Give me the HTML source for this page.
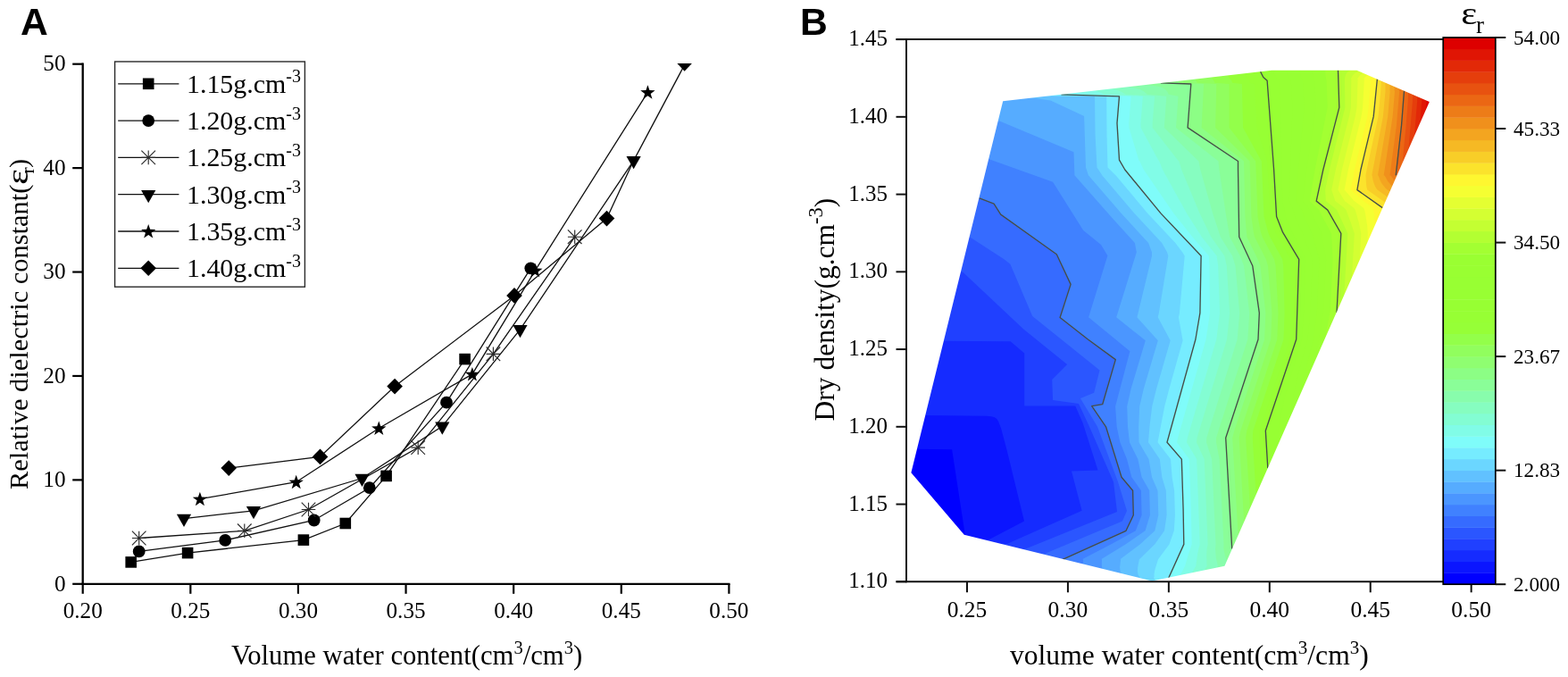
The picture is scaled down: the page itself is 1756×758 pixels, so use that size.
<!DOCTYPE html>
<html lang="en">
<head>
<meta charset="utf-8">
<title>Relative dielectric constant vs volume water content</title>
<style>
html,body{margin:0;padding:0;background:#fff;}
body{width:1756px;height:758px;overflow:hidden;}
svg{display:block;}
text{fill:#000;}
</style>
</head>
<body>
<svg width="1756" height="758" viewBox="0 0 1756 758">
<rect x="0" y="0" width="1756" height="758" fill="#fff"/>
<clipPath id="clipA"><rect x="92.7" y="70.90" width="743.6999999999999" height="582.90"/></clipPath>
<g clip-path="url(#clipA)">
<polyline points="146.7,629.4 210.1,619.1 339.9,604.6 386.8,586.0 432.6,532.9 520.6,402.1" fill="none" stroke="#111" stroke-width="1.3"/>
<polyline points="155.7,617.4 252.2,604.9 351.7,582.5 413.8,546.2 500.0,450.7 594.3,300.3" fill="none" stroke="#111" stroke-width="1.3"/>
<polyline points="155.7,602.5 273.8,594.3 345.5,570.5 468.2,501.1 552.4,396.3 643.7,265.2" fill="none" stroke="#111" stroke-width="1.3"/>
<polyline points="206.0,580.6 284.0,571.8 405.5,535.5 495.3,477.3 582.5,368.8 709.6,179.8 766.5,72.8" fill="none" stroke="#111" stroke-width="1.3"/>
<polyline points="223.9,558.7 331.7,539.7 424.3,479.5 528.9,418.9 599.3,302.8 725.4,103.3" fill="none" stroke="#111" stroke-width="1.3"/>
<polyline points="256.2,524.1 358.5,511.4 442.1,432.6 576.0,330.9 679.5,244.6 709.6,179.8" fill="none" stroke="#111" stroke-width="1.3"/>
<rect x="140.40" y="623.10" width="12.6" height="12.6" fill="#000"/>
<rect x="203.80" y="612.80" width="12.6" height="12.6" fill="#000"/>
<rect x="333.60" y="598.30" width="12.6" height="12.6" fill="#000"/>
<rect x="380.50" y="579.70" width="12.6" height="12.6" fill="#000"/>
<rect x="426.30" y="526.60" width="12.6" height="12.6" fill="#000"/>
<rect x="514.30" y="395.80" width="12.6" height="12.6" fill="#000"/>
<circle cx="155.70" cy="617.40" r="6.9" fill="#000"/>
<circle cx="252.20" cy="604.90" r="6.9" fill="#000"/>
<circle cx="351.70" cy="582.50" r="6.9" fill="#000"/>
<circle cx="413.80" cy="546.20" r="6.9" fill="#000"/>
<circle cx="500.00" cy="450.70" r="6.9" fill="#000"/>
<circle cx="594.30" cy="300.30" r="6.9" fill="#000"/>
<path d="M147.90,602.50H163.50M155.70,594.70V610.30M147.90,594.70L163.50,610.30M147.90,610.30L163.50,594.70" stroke="#2b2b2b" stroke-width="1.15" fill="none"/>
<path d="M266.00,594.30H281.60M273.80,586.50V602.10M266.00,586.50L281.60,602.10M266.00,602.10L281.60,586.50" stroke="#2b2b2b" stroke-width="1.15" fill="none"/>
<path d="M337.70,570.50H353.30M345.50,562.70V578.30M337.70,562.70L353.30,578.30M337.70,578.30L353.30,562.70" stroke="#2b2b2b" stroke-width="1.15" fill="none"/>
<path d="M460.40,501.10H476.00M468.20,493.30V508.90M460.40,493.30L476.00,508.90M460.40,508.90L476.00,493.30" stroke="#2b2b2b" stroke-width="1.15" fill="none"/>
<path d="M544.60,396.30H560.20M552.40,388.50V404.10M544.60,388.50L560.20,404.10M544.60,404.10L560.20,388.50" stroke="#2b2b2b" stroke-width="1.15" fill="none"/>
<path d="M635.90,265.20H651.50M643.70,257.40V273.00M635.90,257.40L651.50,273.00M635.90,273.00L651.50,257.40" stroke="#2b2b2b" stroke-width="1.15" fill="none"/>
<polygon points="197.90,575.87 214.10,575.87 206.00,590.07" fill="#000"/>
<polygon points="275.90,567.07 292.10,567.07 284.00,581.27" fill="#000"/>
<polygon points="397.40,530.77 413.60,530.77 405.50,544.97" fill="#000"/>
<polygon points="487.20,472.57 503.40,472.57 495.30,486.77" fill="#000"/>
<polygon points="574.40,364.07 590.60,364.07 582.50,378.27" fill="#000"/>
<polygon points="701.50,175.07 717.70,175.07 709.60,189.27" fill="#000"/>
<polygon points="758.4,71.1 774.9,71.1 766.6,79.7" fill="#000"/>
<polygon points="223.90,550.70 225.92,556.52 232.08,556.64 227.17,560.36 228.95,566.26 223.90,562.74 218.85,566.26 220.63,560.36 215.72,556.64 221.88,556.52" fill="#000"/>
<polygon points="331.70,531.70 333.72,537.52 339.88,537.64 334.97,541.36 336.75,547.26 331.70,543.74 326.65,547.26 328.43,541.36 323.52,537.64 329.68,537.52" fill="#000"/>
<polygon points="424.30,471.50 426.32,477.32 432.48,477.44 427.57,481.16 429.35,487.06 424.30,483.54 419.25,487.06 421.03,481.16 416.12,477.44 422.28,477.32" fill="#000"/>
<polygon points="528.90,410.90 530.92,416.72 537.08,416.84 532.17,420.56 533.95,426.46 528.90,422.94 523.85,426.46 525.63,420.56 520.72,416.84 526.88,416.72" fill="#000"/>
<polygon points="599.30,294.80 601.32,300.62 607.48,300.74 602.57,304.46 604.35,310.36 599.30,306.84 594.25,310.36 596.03,304.46 591.12,300.74 597.28,300.62" fill="#000"/>
<polygon points="725.40,95.30 727.42,101.12 733.58,101.24 728.67,104.96 730.45,110.86 725.40,107.34 720.35,110.86 722.13,104.96 717.22,101.24 723.38,101.12" fill="#000"/>
<polygon points="256.20,515.30 265.00,524.10 256.20,532.90 247.40,524.10" fill="#000"/>
<polygon points="358.50,502.60 367.30,511.40 358.50,520.20 349.70,511.40" fill="#000"/>
<polygon points="442.10,423.80 450.90,432.60 442.10,441.40 433.30,432.60" fill="#000"/>
<polygon points="576.00,322.10 584.80,330.90 576.00,339.70 567.20,330.90" fill="#000"/>
<polygon points="679.50,235.80 688.30,244.60 679.50,253.40 670.70,244.60" fill="#000"/>
</g>
<path d="M92.70,70.60V654.90" stroke="#000" stroke-width="2.3" fill="none"/>
<path d="M91.60,653.80H817.50" stroke="#000" stroke-width="2.3" fill="none"/>
<path d="M81.20,653.80H92.70" stroke="#000" stroke-width="2.2"/>
<text x="73.50" y="661.50" font-family='"Liberation Serif", "Times New Roman", serif' font-size="25.2" text-anchor="end">0</text>
<path d="M81.20,537.38H92.70" stroke="#000" stroke-width="2.2"/>
<text x="73.50" y="545.08" font-family='"Liberation Serif", "Times New Roman", serif' font-size="25.2" text-anchor="end">10</text>
<path d="M81.20,420.96H92.70" stroke="#000" stroke-width="2.2"/>
<text x="73.50" y="428.66" font-family='"Liberation Serif", "Times New Roman", serif' font-size="25.2" text-anchor="end">20</text>
<path d="M81.20,304.54H92.70" stroke="#000" stroke-width="2.2"/>
<text x="73.50" y="312.24" font-family='"Liberation Serif", "Times New Roman", serif' font-size="25.2" text-anchor="end">30</text>
<path d="M81.20,188.12H92.70" stroke="#000" stroke-width="2.2"/>
<text x="73.50" y="195.82" font-family='"Liberation Serif", "Times New Roman", serif' font-size="25.2" text-anchor="end">40</text>
<path d="M81.20,71.70H92.70" stroke="#000" stroke-width="2.2"/>
<text x="73.50" y="79.40" font-family='"Liberation Serif", "Times New Roman", serif' font-size="25.2" text-anchor="end">50</text>
<path d="M92.70,653.80V664.80" stroke="#000" stroke-width="2.2"/>
<text x="92.70" y="692" font-family='"Liberation Serif", "Times New Roman", serif' font-size="25.2" text-anchor="middle">0.20</text>
<path d="M213.32,653.80V664.80" stroke="#000" stroke-width="2.2"/>
<text x="213.32" y="692" font-family='"Liberation Serif", "Times New Roman", serif' font-size="25.2" text-anchor="middle">0.25</text>
<path d="M333.93,653.80V664.80" stroke="#000" stroke-width="2.2"/>
<text x="333.93" y="692" font-family='"Liberation Serif", "Times New Roman", serif' font-size="25.2" text-anchor="middle">0.30</text>
<path d="M454.55,653.80V664.80" stroke="#000" stroke-width="2.2"/>
<text x="454.55" y="692" font-family='"Liberation Serif", "Times New Roman", serif' font-size="25.2" text-anchor="middle">0.35</text>
<path d="M575.17,653.80V664.80" stroke="#000" stroke-width="2.2"/>
<text x="575.17" y="692" font-family='"Liberation Serif", "Times New Roman", serif' font-size="25.2" text-anchor="middle">0.40</text>
<path d="M695.78,653.80V664.80" stroke="#000" stroke-width="2.2"/>
<text x="695.78" y="692" font-family='"Liberation Serif", "Times New Roman", serif' font-size="25.2" text-anchor="middle">0.45</text>
<path d="M816.40,653.80V664.80" stroke="#000" stroke-width="2.2"/>
<text x="816.40" y="692" font-family='"Liberation Serif", "Times New Roman", serif' font-size="25.2" text-anchor="middle">0.50</text>
<text x="259" y="743.7" font-family='"Liberation Serif", "Times New Roman", serif' font-size="30.7">Volume water content(cm<tspan font-size="20.5" dy="-12">3</tspan><tspan font-size="30.7" dy="12">/cm</tspan><tspan font-size="20.5" dy="-12">3</tspan><tspan font-size="30.7" dy="12">)</tspan></text>
<text transform="translate(30.6,548.0) rotate(-90)" font-family='"Liberation Serif", "Times New Roman", serif' font-size="30.45">Relative dielectric constant(</text>
<text transform="translate(30.9,206.7) rotate(-90) scale(1.22,1)" font-family='"Liberation Serif", "Times New Roman", serif' font-size="34.5">ε</text>
<text transform="translate(38.3,194.5) rotate(-90)" font-family='"Liberation Serif", "Times New Roman", serif' font-size="21.5">r</text>
<text transform="translate(30.6,188.0) rotate(-90)" font-family='"Liberation Serif", "Times New Roman", serif' font-size="30.45">)</text>
<text x="23.0" y="39.3" font-family='"Liberation Sans", Arial, sans-serif' font-weight="bold" font-size="42.6">A</text>
<rect x="128.6" y="69.0" width="212.8" height="252.2" fill="#fff" stroke="#2a2a2a" stroke-width="1.4"/>
<path d="M132.2,93.80H200.4" stroke="#111" stroke-width="1.3"/>
<rect x="159.90" y="87.50" width="12.6" height="12.6" fill="#000"/>
<text x="209" y="103.70" font-family='"Liberation Serif", "Times New Roman", serif' font-size="29.9">1.15g.cm<tspan font-size="20" dy="-11.4">-3</tspan></text>
<path d="M132.2,135.10H200.4" stroke="#111" stroke-width="1.3"/>
<circle cx="166.20" cy="135.10" r="6.9" fill="#000"/>
<text x="209" y="145.00" font-family='"Liberation Serif", "Times New Roman", serif' font-size="29.9">1.20g.cm<tspan font-size="20" dy="-11.4">-3</tspan></text>
<path d="M132.2,176.40H200.4" stroke="#111" stroke-width="1.3"/>
<path d="M158.40,176.40H174.00M166.20,168.60V184.20M158.40,168.60L174.00,184.20M158.40,184.20L174.00,168.60" stroke="#2b2b2b" stroke-width="1.15" fill="none"/>
<text x="209" y="186.30" font-family='"Liberation Serif", "Times New Roman", serif' font-size="29.9">1.25g.cm<tspan font-size="20" dy="-11.4">-3</tspan></text>
<path d="M132.2,217.70H200.4" stroke="#111" stroke-width="1.3"/>
<polygon points="158.10,212.97 174.30,212.97 166.20,227.17" fill="#000"/>
<text x="209" y="227.60" font-family='"Liberation Serif", "Times New Roman", serif' font-size="29.9">1.30g.cm<tspan font-size="20" dy="-11.4">-3</tspan></text>
<path d="M132.2,259.00H200.4" stroke="#111" stroke-width="1.3"/>
<polygon points="166.20,251.00 168.22,256.82 174.38,256.94 169.47,260.66 171.25,266.56 166.20,263.04 161.15,266.56 162.93,260.66 158.02,256.94 164.18,256.82" fill="#000"/>
<text x="209" y="268.90" font-family='"Liberation Serif", "Times New Roman", serif' font-size="29.9">1.35g.cm<tspan font-size="20" dy="-11.4">-3</tspan></text>
<path d="M132.2,300.30H200.4" stroke="#111" stroke-width="1.3"/>
<polygon points="166.20,291.50 175.00,300.30 166.20,309.10 157.40,300.30" fill="#000"/>
<text x="209" y="310.20" font-family='"Liberation Serif", "Times New Roman", serif' font-size="29.9">1.40g.cm<tspan font-size="20" dy="-11.4">-3</tspan></text>
<clipPath id="clipB"><polygon points="1424.1,78.7 1519.4,78.7 1600.8,114.1 1371.4,633.7 1290.0,650.5 1079.8,598.8 1020.4,529.2 1123.2,113.3"/></clipPath>
<g>
<polygon points="1424.1,78.7 1519.4,78.7 1600.8,114.1 1371.4,633.7 1290.0,650.5 1079.8,598.8 1020.4,529.2 1123.2,113.3" fill="#0000ff" stroke="#0000ff" stroke-width="3"/>
<polygon points="1418.1,77.2 1418.1,78.7 1117.2,113.3 1021.0,502.7 1066.1,503.2 1080.8,598.8 1081.5,599.2 1077.5,599.7 1284.0,650.5 1284.0,652.0 1296.0,652.0 1296.0,650.5 1377.4,633.7 1606.8,114.1 1525.4,78.7 1525.4,77.2" fill="#0b15ff"/>
<polygon points="1418.1,77.2 1418.1,78.7 1117.2,113.3 1030.3,465.0 1104.3,465.7 1110.0,466.2 1113.9,467.2 1116.5,469.2 1118.3,472.2 1121.2,480.0 1127.4,503.2 1147.0,583.4 1107.3,604.2 1097.0,604.5 1284.0,650.5 1284.0,652.0 1296.0,652.0 1296.0,650.5 1377.4,633.7 1606.8,114.1 1525.4,78.7 1525.4,77.2" fill="#152bff"/>
<polygon points="1418.1,77.2 1418.1,78.7 1117.2,113.3 1050.9,381.7 1131.6,382.2 1147.2,395.4 1147.2,454.4 1204.2,454.6 1212.6,473.5 1229.5,526.4 1200.0,527.5 1211.6,571.8 1128.2,608.8 1116.1,609.2 1284.0,650.5 1284.0,652.0 1296.0,652.0 1296.0,650.5 1377.4,633.7 1606.8,114.1 1525.4,78.7 1525.4,77.2" fill="#2040ff"/>
<polygon points="1418.1,77.2 1418.1,78.7 1117.2,113.3 1070.0,304.2 1078.1,304.5 1146.2,368.4 1195.1,408.0 1178.2,425.0 1179.1,448.0 1208.0,452.0 1220.0,477.8 1247.0,539.6 1251.0,572.9 1146.7,615.2 1142.5,615.7 1284.0,650.5 1284.0,652.0 1296.0,652.0 1296.0,650.5 1377.4,633.7 1606.8,114.1 1525.4,78.7 1525.4,77.2" fill="#2b56ff"/>
<polygon points="1418.1,77.2 1418.1,78.7 1117.2,113.3 1079.7,265.0 1085.8,265.2 1124.1,290.0 1131.4,295.8 1156.2,353.9 1231.5,414.4 1225.2,439.8 1209.9,446.0 1229.0,477.8 1252.0,539.6 1262.0,572.0 1256.9,583.4 1169.2,620.2 1162.4,620.6 1284.0,650.5 1284.0,652.0 1296.0,652.0 1296.0,650.5 1377.4,633.7 1606.8,114.1 1525.4,78.7 1525.4,77.2" fill="#366bff"/>
<polygon points="1418.1,77.2 1418.1,78.7 1117.2,113.3 1090.4,221.7 1096.8,221.8 1113.1,228.1 1120.7,240.1 1183.3,284.8 1199.1,318.4 1187.1,355.5 1218.4,380.0 1249.3,402.6 1234.7,452.7 1222.7,454.7 1238.5,477.8 1256.0,534.2 1268.6,549.2 1269.3,576.8 1261.0,594.3 1191.6,625.7 1191.2,626.2 1192.0,626.4 1187.2,626.7 1284.0,650.5 1284.0,652.0 1296.0,652.0 1296.0,650.5 1377.4,633.7 1606.8,114.1 1525.4,78.7 1525.4,77.2" fill="#4081ff"/>
<polygon points="1418.1,77.2 1418.1,78.7 1117.2,113.3 1101.4,177.2 1107.4,177.7 1107.7,178.2 1179.1,203.8 1213.0,257.7 1233.0,274.0 1240.4,286.3 1219.1,355.2 1265.4,393.2 1249.1,455.0 1250.7,478.0 1254.4,495.3 1262.0,514.1 1267.3,534.2 1277.9,549.2 1278.6,576.8 1271.8,594.3 1244.0,609.4 1212.8,625.7 1212.4,626.2 1213.0,626.4 1213.2,631.2 1207.6,631.7 1284.0,650.5 1284.0,652.0 1296.0,652.0 1296.0,650.5 1377.4,633.7 1606.8,114.1 1525.4,78.7 1525.4,77.2" fill="#4b96ff"/>
<polygon points="1418.1,77.2 1418.1,78.7 1117.2,113.3 1111.8,135.2 1119.8,135.7 1121.1,136.2 1202.5,170.2 1203.4,196.3 1246.6,245.2 1270.9,272.0 1272.8,282.5 1250.2,355.2 1282.8,381.3 1266.6,435.2 1262.2,455.0 1263.0,478.0 1265.0,495.3 1274.3,514.1 1278.6,534.2 1287.2,549.2 1287.9,576.8 1282.5,594.3 1260.4,609.4 1233.9,625.7 1233.5,626.2 1234.0,626.4 1233.8,632.2 1234.4,636.7 1229.9,637.2 1284.0,650.5 1284.0,652.0 1296.0,652.0 1296.0,650.5 1377.4,633.7 1606.8,114.1 1525.4,78.7 1525.4,77.2" fill="#56acff"/>
<polygon points="1418.1,77.2 1418.1,78.7 1152.9,109.2 1176.5,112.6 1214.1,130.1 1216.0,187.5 1218.9,196.3 1255.8,238.9 1286.1,272.0 1290.0,282.5 1290.0,286.5 1273.4,355.2 1296.8,381.3 1280.8,435.2 1276.2,455.0 1275.2,478.0 1275.5,495.3 1286.5,514.1 1290.0,534.2 1296.5,549.2 1297.3,576.8 1293.3,594.3 1276.7,609.4 1255.0,625.7 1254.7,626.2 1255.1,626.4 1254.1,635.2 1254.5,638.7 1255.5,641.7 1250.3,642.2 1284.0,650.5 1284.0,652.0 1296.0,652.0 1296.0,650.5 1377.4,633.7 1606.8,114.1 1525.4,78.7 1525.4,77.2" fill="#61c1ff"/>
<polygon points="1418.1,77.2 1418.1,78.7 1170.2,107.2 1226.0,107.6 1226.5,150.0 1228.5,187.5 1234.6,196.7 1270.5,238.9 1301.2,272.0 1307.1,282.5 1308.3,286.5 1297.8,350.4 1296.7,355.2 1310.7,381.3 1295.1,435.2 1290.2,455.0 1287.4,478.0 1286.0,495.3 1298.8,514.1 1301.3,534.2 1305.8,549.2 1306.6,576.8 1304.0,594.3 1293.1,609.4 1275.9,626.2 1274.2,634.7 1273.9,639.7 1274.6,643.7 1276.8,647.2 1272.6,647.7 1284.0,650.5 1284.0,652.0 1296.0,652.0 1296.0,650.5 1377.4,633.7 1606.8,114.1 1525.4,78.7 1525.4,77.2" fill="#6bd6ff"/>
<polygon points="1418.1,77.2 1418.1,78.7 1170.2,107.2 1239.2,107.8 1239.5,150.0 1240.5,187.5 1249.9,196.7 1285.3,238.9 1316.3,272.0 1324.2,282.5 1326.7,286.5 1320.9,350.4 1319.9,355.2 1324.6,381.3 1309.4,435.2 1304.2,455.0 1296.5,495.3 1311.0,514.1 1312.6,534.2 1315.1,549.2 1315.9,576.8 1314.8,594.3 1309.4,609.4 1297.0,626.2 1293.4,637.7 1292.5,642.7 1292.6,646.2 1291.8,647.0 1294.3,649.2 1299.9,649.7 1296.0,650.5 1296.0,652.0 1296.0,652.0 1296.0,650.5 1377.4,633.7 1606.8,114.1 1525.4,78.7 1525.4,77.2" fill="#76ecff"/>
<polygon points="1418.1,77.2 1418.1,78.7 1183.3,105.7 1253.5,107.8 1251.0,137.9 1253.5,179.2 1259.8,190.0 1300.0,238.9 1345.1,286.5 1343.9,350.4 1338.9,380.0 1307.0,495.3 1323.3,514.1 1325.1,570.0 1325.8,609.4 1309.2,646.2 1307.0,647.0 1312.0,647.2 1296.0,650.5 1296.0,652.0 1296.0,652.0 1296.0,650.5 1377.4,633.7 1606.8,114.1 1525.4,78.7 1525.4,77.2" fill="#7ffcfa"/>
<polygon points="1418.1,77.2 1418.1,78.7 1205.0,103.2 1207.5,103.7 1212.5,105.8 1266.7,107.8 1264.2,137.9 1264.4,142.9 1275.3,179.2 1276.3,180.5 1280.9,190.0 1314.5,238.9 1335.4,265.2 1353.8,286.5 1354.5,297.8 1355.0,350.4 1350.6,380.0 1319.1,490.3 1318.0,495.3 1331.8,514.1 1333.8,570.0 1334.7,609.4 1330.5,621.7 1327.1,633.7 1323.8,640.2 1321.3,643.7 1326.5,644.2 1296.0,650.5 1296.0,652.0 1296.0,652.0 1296.0,650.5 1377.4,633.7 1606.8,114.1 1525.4,78.7 1525.4,77.2" fill="#81fce7"/>
<polygon points="1418.1,77.2 1418.1,78.7 1222.4,101.2 1226.2,101.5 1228.6,102.2 1232.6,103.7 1236.6,105.8 1279.9,107.8 1277.5,137.9 1277.6,142.9 1297.2,179.2 1298.3,180.5 1302.0,190.0 1329.1,238.9 1345.8,265.2 1362.6,286.5 1364.2,297.8 1366.0,350.4 1362.3,380.0 1329.8,490.3 1329.0,495.3 1340.2,514.1 1343.7,609.4 1342.3,614.4 1340.9,621.7 1339.3,633.7 1334.9,641.2 1338.6,641.7 1296.0,650.5 1296.0,652.0 1296.0,652.0 1296.0,650.5 1377.4,633.7 1606.8,114.1 1525.4,78.7 1525.4,77.2" fill="#83fdd3"/>
<polygon points="1418.1,77.2 1418.1,78.7 1239.8,99.2 1246.8,99.7 1250.6,100.7 1255.8,102.7 1260.7,105.8 1293.1,107.8 1290.7,137.9 1290.7,142.9 1319.0,179.2 1320.4,180.5 1323.2,190.0 1343.6,238.9 1356.3,265.2 1371.3,286.5 1373.8,297.8 1377.1,350.4 1374.0,380.0 1340.5,490.3 1340.0,495.3 1348.7,514.1 1352.6,609.4 1351.6,614.4 1351.2,621.7 1351.6,633.7 1348.9,638.2 1353.2,638.7 1296.0,650.5 1296.0,652.0 1296.0,652.0 1296.0,650.5 1377.4,633.7 1606.8,114.1 1525.4,78.7 1525.4,77.2" fill="#86fdc0"/>
<polygon points="1418.1,77.2 1418.1,78.7 1261.6,96.7 1270.1,98.2 1277.0,100.2 1281.6,102.7 1284.7,105.8 1306.3,107.8 1303.8,142.9 1342.4,180.5 1344.3,190.0 1358.2,238.9 1366.8,265.2 1380.1,286.5 1383.5,297.8 1388.2,350.4 1385.6,380.0 1351.3,490.3 1351.0,495.3 1357.1,514.1 1361.5,609.4 1361.0,614.4 1361.9,625.2 1363.9,633.7 1363.0,635.2 1367.7,635.7 1296.0,650.5 1296.0,652.0 1296.0,652.0 1296.0,650.5 1377.4,633.7 1606.8,114.1 1525.4,78.7 1525.4,77.2" fill="#88fdac"/>
<polygon points="1418.1,77.2 1418.1,78.7 1279.0,94.7 1290.8,95.7 1296.9,96.7 1300.5,97.7 1303.8,99.2 1305.7,100.7 1307.4,102.7 1308.8,105.8 1319.5,107.8 1317.0,142.9 1364.5,180.5 1365.4,190.0 1372.7,238.9 1377.2,265.2 1388.8,286.5 1393.1,297.8 1399.2,350.4 1397.3,380.0 1362.0,490.3 1362.0,495.3 1365.6,514.1 1370.5,609.4 1370.3,614.4 1371.9,622.2 1373.7,628.2 1379.6,628.7 1377.4,633.7 1296.0,650.5 1296.0,652.0 1296.0,652.0 1296.0,650.5 1377.4,633.7 1606.8,114.1 1525.4,78.7 1525.4,77.2" fill="#8afe98"/>
<polygon points="1418.1,77.2 1418.1,78.7 1296.3,92.7 1333.8,94.0 1330.1,142.9 1386.5,180.5 1387.7,265.2 1402.8,297.8 1410.3,350.4 1409.0,380.0 1372.7,490.3 1379.7,614.4 1385.8,614.7 1377.4,633.7 1296.0,650.5 1296.0,652.0 1296.0,652.0 1296.0,650.5 1377.4,633.7 1606.8,114.1 1525.4,78.7 1525.4,77.2" fill="#8cfe85"/>
<polygon points="1418.1,77.2 1418.1,78.7 1318.1,90.2 1319.9,90.7 1321.1,92.8 1348.1,94.0 1345.6,142.9 1393.1,180.5 1394.4,242.6 1396.4,265.2 1408.6,290.3 1411.4,297.8 1417.4,350.4 1416.1,380.0 1382.3,482.3 1380.2,490.3 1386.6,599.2 1392.4,599.7 1377.4,633.7 1296.0,650.5 1296.0,652.0 1296.0,652.0 1296.0,650.5 1377.4,633.7 1606.8,114.1 1525.4,78.7 1525.4,77.2" fill="#8ffe71"/>
<polygon points="1418.1,77.2 1418.1,78.7 1335.5,88.2 1338.3,88.7 1340.8,92.8 1362.3,94.0 1361.1,142.9 1399.6,180.5 1401.4,242.6 1403.9,260.2 1405.0,265.2 1417.8,290.3 1420.0,297.8 1424.4,350.4 1423.2,380.0 1389.3,482.3 1387.7,490.3 1393.2,584.2 1399.0,584.7 1377.4,633.7 1296.0,650.5 1296.0,652.0 1296.0,652.0 1296.0,650.5 1377.4,633.7 1606.8,114.1 1525.4,78.7 1525.4,77.2" fill="#91fe5e"/>
<polygon points="1418.1,77.2 1418.1,78.7 1352.9,86.2 1356.6,86.5 1359.3,90.2 1360.4,92.8 1376.6,94.0 1376.6,142.9 1406.2,180.5 1408.5,242.6 1412.1,260.2 1413.7,265.2 1427.0,290.3 1428.6,297.8 1431.5,350.4 1430.3,380.0 1396.3,482.3 1395.2,490.3 1399.9,569.2 1405.7,569.7 1377.4,633.7 1296.0,650.5 1296.0,652.0 1296.0,652.0 1296.0,650.5 1377.4,633.7 1606.8,114.1 1525.4,78.7 1525.4,77.2" fill="#93ff4a"/>
<polygon points="1418.1,77.2 1418.1,78.7 1370.3,84.2 1375.1,84.7 1376.2,86.7 1379.3,90.2 1380.0,92.8 1390.9,94.0 1392.1,142.9 1412.8,180.5 1415.5,242.6 1420.3,260.2 1422.3,265.2 1436.2,290.3 1437.2,297.8 1438.6,350.4 1437.5,380.0 1403.3,482.3 1402.8,490.3 1406.5,553.7 1412.5,554.2 1377.4,633.7 1296.0,650.5 1296.0,652.0 1296.0,652.0 1296.0,650.5 1377.4,633.7 1606.8,114.1 1525.4,78.7 1525.4,77.2" fill="#96ff37"/>
<polygon points="1418.1,77.2 1418.1,78.7 1387.7,82.2 1393.6,82.7 1395.4,86.5 1399.2,90.2 1399.7,92.8 1405.1,94.0 1407.6,142.9 1419.3,180.5 1422.6,242.6 1428.4,260.2 1431.0,265.2 1445.5,290.3 1445.8,297.8 1445.6,350.4 1444.6,380.0 1410.3,482.3 1410.3,490.3 1413.1,538.7 1419.1,539.2 1377.4,633.7 1296.0,650.5 1296.0,652.0 1296.0,652.0 1296.0,650.5 1377.4,633.7 1606.8,114.1 1525.4,78.7 1525.4,77.2" fill="#97ff34"/>
<polygon points="1418.1,77.2 1418.1,78.7 1409.4,79.7 1411.6,80.2 1414.8,86.5 1419.1,90.2 1426.6,190.0 1429.6,242.6 1436.6,260.2 1454.7,290.3 1451.7,380.0 1417.3,482.3 1419.8,524.1 1425.7,524.2 1377.4,633.7 1296.0,650.5 1296.0,652.0 1296.0,652.0 1296.0,650.5 1377.4,633.7 1606.8,114.1 1525.4,78.7 1525.4,77.2" fill="#97ff33"/>
<polygon points="1428.7,77.2 1428.7,78.7 1426.1,80.2 1428.8,86.5 1432.4,90.2 1434.4,120.3 1436.2,225.1 1438.8,235.1 1439.8,242.6 1447.4,260.2 1462.3,290.3 1460.1,348.7 1458.1,380.0 1447.3,415.2 1439.8,441.7 1435.0,461.7 1432.3,477.2 1431.8,482.3 1432.6,494.7 1438.5,495.2 1377.4,633.7 1296.0,650.5 1296.0,652.0 1296.0,652.0 1296.0,650.5 1377.4,633.7 1606.8,114.1 1525.4,78.7 1525.4,77.2" fill="#98ff33"/>
<polygon points="1442.6,77.2 1442.6,78.7 1440.6,80.2 1442.8,86.5 1445.7,90.2 1447.5,120.3 1443.8,225.1 1448.4,235.1 1450.1,242.6 1458.8,261.4 1469.9,290.3 1467.5,348.7 1464.5,380.0 1457.1,406.2 1451.7,427.7 1448.1,445.2 1445.9,459.7 1445.4,465.7 1451.4,466.2 1377.4,633.7 1296.0,650.5 1296.0,652.0 1296.0,652.0 1296.0,650.5 1377.4,633.7 1606.8,114.1 1525.4,78.7 1525.4,77.2" fill="#98ff33"/>
<polygon points="1456.6,77.2 1456.6,78.7 1455.1,80.2 1456.8,86.5 1459.0,90.2 1460.6,120.3 1454.2,190.0 1451.4,225.1 1458.0,235.1 1460.3,242.6 1469.6,261.4 1477.5,290.3 1474.9,348.7 1472.4,368.7 1470.9,380.0 1463.0,411.7 1458.3,436.7 1464.2,437.2 1377.4,633.7 1296.0,650.5 1296.0,652.0 1296.0,652.0 1296.0,650.5 1377.4,633.7 1606.8,114.1 1525.4,78.7 1525.4,77.2" fill="#99ff32"/>
<polygon points="1470.6,77.2 1470.6,78.7 1469.6,80.2 1470.8,86.5 1472.3,90.2 1473.7,120.3 1463.4,190.0 1459.0,225.1 1467.6,235.1 1470.6,242.6 1480.3,261.4 1485.1,290.3 1482.2,349.2 1477.2,380.0 1471.0,408.0 1477.0,408.2 1377.4,633.7 1296.0,650.5 1296.0,652.0 1296.0,652.0 1296.0,650.5 1377.4,633.7 1606.8,114.1 1525.4,78.7 1525.4,77.2" fill="#9aff32"/>
<polygon points="1484.5,77.2 1484.5,78.7 1484.1,80.2 1484.8,86.5 1485.6,90.2 1486.7,120.3 1472.6,190.0 1466.6,225.1 1477.2,235.1 1480.8,242.6 1491.1,261.4 1492.6,290.3 1489.7,348.7 1483.9,378.7 1489.8,379.2 1377.4,633.7 1296.0,650.5 1296.0,652.0 1296.0,652.0 1296.0,650.5 1377.4,633.7 1606.8,114.1 1525.4,78.7 1525.4,77.2" fill="#a3ff32"/>
<polygon points="1498.5,77.2 1498.5,78.7 1499.8,120.3 1481.8,190.0 1474.2,225.1 1486.8,235.1 1501.8,261.4 1497.1,348.7 1496.7,350.0 1502.6,350.2 1377.4,633.7 1296.0,650.5 1296.0,652.0 1296.0,652.0 1296.0,650.5 1377.4,633.7 1606.8,114.1 1525.4,78.7 1525.4,77.2" fill="#b3ff32"/>
<polygon points="1512.5,77.2 1512.5,78.7 1510.3,79.7 1508.5,81.2 1507.2,83.2 1506.2,86.5 1505.9,88.2 1506.4,120.3 1488.8,190.0 1484.1,212.6 1484.8,225.1 1494.6,232.7 1497.1,235.1 1509.3,261.4 1505.3,330.2 1511.2,330.7 1377.4,633.7 1296.0,650.5 1296.0,652.0 1296.0,652.0 1296.0,650.5 1377.4,633.7 1606.8,114.1 1525.4,78.7 1525.4,77.2" fill="#c4ff32"/>
<polygon points="1525.4,77.2 1525.4,78.7 1527.7,79.7 1520.6,80.2 1516.9,82.2 1514.6,84.7 1512.9,88.2 1513.3,88.7 1512.9,120.3 1510.9,130.4 1495.8,190.0 1491.2,212.6 1495.3,225.1 1505.3,232.7 1507.4,235.1 1512.8,249.2 1516.8,261.4 1513.9,310.7 1519.8,311.2 1377.4,633.7 1296.0,650.5 1296.0,652.0 1296.0,652.0 1296.0,650.5 1377.4,633.7 1606.8,114.1 1525.4,78.7 1525.4,77.2" fill="#d4ff32"/>
<polygon points="1525.4,77.2 1525.4,78.7 1532.3,81.7 1526.0,82.2 1522.5,84.7 1520.0,88.2 1520.6,88.7 1519.5,120.3 1517.7,130.4 1502.8,190.0 1498.4,212.6 1505.9,225.1 1516.1,232.7 1517.7,235.1 1521.8,249.2 1524.3,261.4 1522.6,291.2 1528.4,291.7 1377.4,633.7 1296.0,650.5 1296.0,652.0 1296.0,652.0 1296.0,650.5 1377.4,633.7 1606.8,114.1 1525.4,78.7 1525.4,77.2" fill="#e4ff32"/>
<polygon points="1525.4,77.2 1525.4,78.7 1536.9,83.7 1531.2,84.2 1528.8,86.2 1527.1,88.2 1527.8,88.7 1526.1,120.3 1524.5,130.4 1509.9,190.0 1505.6,212.6 1516.5,225.1 1526.9,232.7 1528.1,235.1 1529.0,239.2 1531.2,252.7 1531.8,261.4 1531.2,271.7 1537.1,272.0 1377.4,633.7 1296.0,650.5 1296.0,652.0 1296.0,652.0 1296.0,650.5 1377.4,633.7 1606.8,114.1 1525.4,78.7 1525.4,77.2" fill="#f5ff32"/>
<polygon points="1525.4,77.2 1525.4,78.7 1541.5,85.7 1536.3,86.2 1534.2,88.2 1535.1,88.7 1532.6,120.3 1531.4,130.4 1516.9,190.0 1512.7,212.6 1527.0,225.1 1537.7,232.7 1539.1,240.7 1539.8,251.7 1545.8,252.2 1377.4,633.7 1296.0,650.5 1296.0,652.0 1296.0,652.0 1296.0,650.5 1377.4,633.7 1606.8,114.1 1525.4,78.7 1525.4,77.2" fill="#fef730"/>
<polygon points="1525.4,77.2 1525.4,78.7 1546.1,87.7 1541.2,88.2 1542.4,88.7 1538.2,130.4 1523.9,190.0 1519.9,212.6 1548.2,232.6 1554.4,232.7 1377.4,633.7 1296.0,650.5 1296.0,652.0 1296.0,652.0 1296.0,650.5 1377.4,633.7 1606.8,114.1 1525.4,78.7 1525.4,77.2" fill="#fbe32c"/>
<polygon points="1525.4,77.2 1525.4,78.7 1551.8,90.2 1546.4,90.7 1546.7,93.7 1546.2,102.2 1543.5,130.4 1530.6,190.0 1529.5,196.3 1529.8,202.7 1530.2,208.2 1531.2,212.6 1550.6,226.2 1557.1,226.7 1377.4,633.7 1296.0,650.5 1296.0,652.0 1296.0,652.0 1296.0,650.5 1377.4,633.7 1606.8,114.1 1525.4,78.7 1525.4,77.2" fill="#f8ce28"/>
<polygon points="1525.4,77.2 1525.4,78.7 1556.4,92.2 1551.4,92.7 1551.5,102.2 1548.9,130.4 1536.3,196.3 1536.7,196.7 1537.6,201.7 1539.0,206.2 1540.6,209.7 1542.5,212.6 1553.4,220.2 1559.7,220.7 1377.4,633.7 1296.0,650.5 1296.0,652.0 1296.0,652.0 1296.0,650.5 1377.4,633.7 1606.8,114.1 1525.4,78.7 1525.4,77.2" fill="#f6b924"/>
<polygon points="1525.4,77.2 1525.4,78.7 1562.2,94.7 1556.6,95.2 1556.5,101.5 1556.7,102.2 1554.2,130.4 1543.0,196.3 1543.8,196.7 1545.3,201.2 1547.3,205.2 1551.7,210.7 1556.1,214.2 1562.4,214.7 1377.4,633.7 1296.0,650.5 1296.0,652.0 1296.0,652.0 1296.0,650.5 1377.4,633.7 1606.8,114.1 1525.4,78.7 1525.4,77.2" fill="#f3a520"/>
<polygon points="1525.4,77.2 1525.4,78.7 1566.8,96.7 1561.6,97.2 1561.6,101.5 1562.0,102.2 1559.6,130.4 1549.7,196.3 1550.8,196.7 1554.4,203.2 1558.9,208.2 1565.0,208.7 1377.4,633.7 1296.0,650.5 1296.0,652.0 1296.0,652.0 1296.0,650.5 1377.4,633.7 1606.8,114.1 1525.4,78.7 1525.4,77.2" fill="#f0901c"/>
<polygon points="1525.4,77.2 1525.4,78.7 1572.5,99.2 1566.7,99.7 1566.7,101.5 1567.2,102.2 1563.9,140.4 1556.5,196.3 1557.8,196.7 1561.7,202.2 1567.7,202.7 1377.4,633.7 1296.0,650.5 1296.0,652.0 1296.0,652.0 1296.0,650.5 1377.4,633.7 1606.8,114.1 1525.4,78.7 1525.4,77.2" fill="#ed7c18"/>
<polygon points="1525.4,77.2 1525.4,78.7 1577.1,101.2 1571.8,101.5 1572.4,102.2 1569.5,140.4 1563.2,196.3 1570.3,196.7 1377.4,633.7 1296.0,650.5 1296.0,652.0 1296.0,652.0 1296.0,650.5 1377.4,633.7 1606.8,114.1 1525.4,78.7 1525.4,77.2" fill="#eb6714"/>
<polygon points="1525.4,77.2 1525.4,78.7 1582.9,103.7 1577.1,104.2 1576.8,113.3 1574.6,140.4 1571.5,172.7 1571.0,181.7 1576.7,182.2 1377.4,633.7 1296.0,650.5 1296.0,652.0 1296.0,652.0 1296.0,650.5 1377.4,633.7 1606.8,114.1 1525.4,78.7 1525.4,77.2" fill="#e85210"/>
<polygon points="1525.4,77.2 1525.4,78.7 1587.7,105.8 1582.1,106.2 1581.9,114.1 1577.5,166.2 1577.4,166.7 1583.4,167.2 1377.4,633.7 1296.0,650.5 1296.0,652.0 1296.0,652.0 1296.0,650.5 1377.4,633.7 1606.8,114.1 1525.4,78.7 1525.4,77.2" fill="#e53e0c"/>
<polygon points="1525.4,77.2 1525.4,78.7 1593.2,108.2 1587.3,108.7 1587.1,114.1 1583.9,152.2 1589.8,152.7 1377.4,633.7 1296.0,650.5 1296.0,652.0 1296.0,652.0 1296.0,650.5 1377.4,633.7 1606.8,114.1 1525.4,78.7 1525.4,77.2" fill="#e22908"/>
<polygon points="1525.4,77.2 1525.4,78.7 1597.8,110.2 1592.4,110.7 1590.3,137.9 1596.2,138.2 1377.4,633.7 1296.0,650.5 1296.0,652.0 1296.0,652.0 1296.0,650.5 1377.4,633.7 1606.8,114.1 1525.4,78.7 1525.4,77.2" fill="#e01504"/>
<polygon points="1525.4,77.2 1525.4,78.7 1603.4,112.6 1597.6,112.7 1596.7,123.2 1602.6,123.7 1377.4,633.7 1296.0,650.5 1296.0,652.0 1296.0,652.0 1296.0,650.5 1377.4,633.7 1606.8,114.1 1525.4,78.7 1525.4,77.2" fill="#dd0000"/>
</g>
<path d="M1004,46H1616V664H1004Z M1424.1,78.7 L1519.4,78.7 L1600.8,114.1 L1371.4,633.7 L1290.0,650.5 L1079.8,598.8 L1020.4,529.2 L1123.2,113.3Z" fill="#fff" fill-rule="evenodd"/>
<g clip-path="url(#clipB)">
<polyline points="1096.8,221.8 1113.1,228.1 1120.7,240.1 1183.3,284.8 1199.1,318.4 1187.1,355.5 1218.4,380.0 1249.3,402.6 1234.7,452.7 1222.7,454.7 1238.5,477.8 1256.0,534.2 1268.6,549.2 1269.3,576.8 1261.0,594.3 1190.1,626.4" fill="none" stroke="#464e48" stroke-width="1.35" stroke-linejoin="round"/>
<polyline points="1188.4,105.8 1253.5,107.8 1251.0,137.9 1253.5,179.2 1259.8,190.0 1300.0,238.9 1345.1,286.5 1343.9,350.4 1338.9,380.0 1307.0,495.3 1323.3,514.1 1325.1,570.0 1325.8,609.4 1308.8,647.0" fill="none" stroke="#464e48" stroke-width="1.35" stroke-linejoin="round"/>
<polyline points="1299.9,92.8 1333.8,94.0 1330.1,142.9 1386.5,180.5 1386.5,190.0 1387.7,265.2 1402.8,297.8 1410.3,350.4 1409.0,380.0 1372.7,490.3 1377.2,570.0 1379.7,614.4" fill="none" stroke="#464e48" stroke-width="1.35" stroke-linejoin="round"/>
<polyline points="1411.6,80.2 1414.8,86.5 1419.1,90.2 1426.6,190.0 1429.6,242.6 1436.6,260.2 1454.7,290.3 1451.7,380.0 1417.3,482.3 1419.8,524.1" fill="none" stroke="#464e48" stroke-width="1.35" stroke-linejoin="round"/>
<polyline points="1498.5,78.7 1499.8,120.3 1481.8,190.0 1474.2,225.1 1486.8,235.1 1501.8,261.4 1497.0,350.0" fill="none" stroke="#464e48" stroke-width="1.35" stroke-linejoin="round"/>
<polyline points="1542.4,88.2 1538.2,130.4 1523.9,190.0 1519.9,212.6 1548.2,232.6" fill="none" stroke="#464e48" stroke-width="1.35" stroke-linejoin="round"/>
<polyline points="1572.5,101.5 1569.5,140.4 1563.2,196.3" fill="none" stroke="#464e48" stroke-width="1.35" stroke-linejoin="round"/>
</g>
<path d="M1015.00,43.10V652.30" stroke="#111" stroke-width="2.0" fill="none"/>
<path d="M1003.50,44.10H1616.20" stroke="#111" stroke-width="2.0" fill="none"/>
<path d="M1003.50,651.30H1616.20" stroke="#111" stroke-width="2.0" fill="none"/>
<path d="M1003.50,651.30H1015.00" stroke="#111" stroke-width="2.0"/>
<text x="994" y="658.30" font-family='"Liberation Serif", "Times New Roman", serif' font-size="25" text-anchor="end">1.10</text>
<path d="M1003.50,564.56H1015.00" stroke="#111" stroke-width="2.0"/>
<text x="994" y="571.56" font-family='"Liberation Serif", "Times New Roman", serif' font-size="25" text-anchor="end">1.15</text>
<path d="M1003.50,477.81H1015.00" stroke="#111" stroke-width="2.0"/>
<text x="994" y="484.81" font-family='"Liberation Serif", "Times New Roman", serif' font-size="25" text-anchor="end">1.20</text>
<path d="M1003.50,391.07H1015.00" stroke="#111" stroke-width="2.0"/>
<text x="994" y="398.07" font-family='"Liberation Serif", "Times New Roman", serif' font-size="25" text-anchor="end">1.25</text>
<path d="M1003.50,304.33H1015.00" stroke="#111" stroke-width="2.0"/>
<text x="994" y="311.33" font-family='"Liberation Serif", "Times New Roman", serif' font-size="25" text-anchor="end">1.30</text>
<path d="M1003.50,217.59H1015.00" stroke="#111" stroke-width="2.0"/>
<text x="994" y="224.59" font-family='"Liberation Serif", "Times New Roman", serif' font-size="25" text-anchor="end">1.35</text>
<path d="M1003.50,130.84H1015.00" stroke="#111" stroke-width="2.0"/>
<text x="994" y="137.84" font-family='"Liberation Serif", "Times New Roman", serif' font-size="25" text-anchor="end">1.40</text>
<path d="M1003.50,44.10H1015.00" stroke="#111" stroke-width="2.0"/>
<text x="994" y="51.10" font-family='"Liberation Serif", "Times New Roman", serif' font-size="25" text-anchor="end">1.45</text>
<path d="M1083.00,651.30V663.30" stroke="#111" stroke-width="2.0"/>
<text x="1083.00" y="691.2" font-family='"Liberation Serif", "Times New Roman", serif' font-size="25.5" text-anchor="middle">0.25</text>
<path d="M1195.93,651.30V663.30" stroke="#111" stroke-width="2.0"/>
<text x="1195.93" y="691.2" font-family='"Liberation Serif", "Times New Roman", serif' font-size="25.5" text-anchor="middle">0.30</text>
<path d="M1308.86,651.30V663.30" stroke="#111" stroke-width="2.0"/>
<text x="1308.86" y="691.2" font-family='"Liberation Serif", "Times New Roman", serif' font-size="25.5" text-anchor="middle">0.35</text>
<path d="M1421.79,651.30V663.30" stroke="#111" stroke-width="2.0"/>
<text x="1421.79" y="691.2" font-family='"Liberation Serif", "Times New Roman", serif' font-size="25.5" text-anchor="middle">0.40</text>
<path d="M1534.72,651.30V663.30" stroke="#111" stroke-width="2.0"/>
<text x="1534.72" y="691.2" font-family='"Liberation Serif", "Times New Roman", serif' font-size="25.5" text-anchor="middle">0.45</text>
<path d="M1647.65,651.30V663.30" stroke="#111" stroke-width="2.0"/>
<text x="1647.65" y="691.2" font-family='"Liberation Serif", "Times New Roman", serif' font-size="25.5" text-anchor="middle">0.50</text>
<rect x="1616.2" y="641.45" width="58.60" height="13.15" fill="#0000ff"/>
<rect x="1616.2" y="628.69" width="58.60" height="13.15" fill="#0b15ff"/>
<rect x="1616.2" y="615.94" width="58.60" height="13.15" fill="#152bff"/>
<rect x="1616.2" y="603.18" width="58.60" height="13.15" fill="#2040ff"/>
<rect x="1616.2" y="590.43" width="58.60" height="13.15" fill="#2b56ff"/>
<rect x="1616.2" y="577.68" width="58.60" height="13.15" fill="#366bff"/>
<rect x="1616.2" y="564.92" width="58.60" height="13.15" fill="#4081ff"/>
<rect x="1616.2" y="552.17" width="58.60" height="13.15" fill="#4b96ff"/>
<rect x="1616.2" y="539.41" width="58.60" height="13.15" fill="#56acff"/>
<rect x="1616.2" y="526.66" width="58.60" height="13.15" fill="#61c1ff"/>
<rect x="1616.2" y="513.90" width="58.60" height="13.15" fill="#6bd6ff"/>
<rect x="1616.2" y="501.15" width="58.60" height="13.15" fill="#76ecff"/>
<rect x="1616.2" y="488.40" width="58.60" height="13.15" fill="#7ffcfa"/>
<rect x="1616.2" y="475.64" width="58.60" height="13.15" fill="#81fce7"/>
<rect x="1616.2" y="462.89" width="58.60" height="13.15" fill="#83fdd3"/>
<rect x="1616.2" y="450.13" width="58.60" height="13.15" fill="#86fdc0"/>
<rect x="1616.2" y="437.38" width="58.60" height="13.15" fill="#88fdac"/>
<rect x="1616.2" y="424.62" width="58.60" height="13.15" fill="#8afe98"/>
<rect x="1616.2" y="411.87" width="58.60" height="13.15" fill="#8cfe85"/>
<rect x="1616.2" y="399.12" width="58.60" height="13.15" fill="#8ffe71"/>
<rect x="1616.2" y="386.36" width="58.60" height="13.15" fill="#91fe5e"/>
<rect x="1616.2" y="373.61" width="58.60" height="13.15" fill="#93ff4a"/>
<rect x="1616.2" y="360.85" width="58.60" height="13.15" fill="#96ff37"/>
<rect x="1616.2" y="348.10" width="58.60" height="13.15" fill="#97ff34"/>
<rect x="1616.2" y="335.35" width="58.60" height="13.15" fill="#97ff33"/>
<rect x="1616.2" y="322.59" width="58.60" height="13.15" fill="#98ff33"/>
<rect x="1616.2" y="309.84" width="58.60" height="13.15" fill="#98ff33"/>
<rect x="1616.2" y="297.08" width="58.60" height="13.15" fill="#99ff32"/>
<rect x="1616.2" y="284.33" width="58.60" height="13.15" fill="#9aff32"/>
<rect x="1616.2" y="271.57" width="58.60" height="13.15" fill="#a3ff32"/>
<rect x="1616.2" y="258.82" width="58.60" height="13.15" fill="#b3ff32"/>
<rect x="1616.2" y="246.07" width="58.60" height="13.15" fill="#c4ff32"/>
<rect x="1616.2" y="233.31" width="58.60" height="13.15" fill="#d4ff32"/>
<rect x="1616.2" y="220.56" width="58.60" height="13.15" fill="#e4ff32"/>
<rect x="1616.2" y="207.80" width="58.60" height="13.15" fill="#f5ff32"/>
<rect x="1616.2" y="195.05" width="58.60" height="13.15" fill="#fef730"/>
<rect x="1616.2" y="182.30" width="58.60" height="13.15" fill="#fbe32c"/>
<rect x="1616.2" y="169.54" width="58.60" height="13.15" fill="#f8ce28"/>
<rect x="1616.2" y="156.79" width="58.60" height="13.15" fill="#f6b924"/>
<rect x="1616.2" y="144.03" width="58.60" height="13.15" fill="#f3a520"/>
<rect x="1616.2" y="131.28" width="58.60" height="13.15" fill="#f0901c"/>
<rect x="1616.2" y="118.52" width="58.60" height="13.15" fill="#ed7c18"/>
<rect x="1616.2" y="105.77" width="58.60" height="13.15" fill="#eb6714"/>
<rect x="1616.2" y="93.02" width="58.60" height="13.15" fill="#e85210"/>
<rect x="1616.2" y="80.26" width="58.60" height="13.15" fill="#e53e0c"/>
<rect x="1616.2" y="67.51" width="58.60" height="13.15" fill="#e22908"/>
<rect x="1616.2" y="54.75" width="58.60" height="13.15" fill="#e01504"/>
<rect x="1616.2" y="42.00" width="58.60" height="13.15" fill="#dd0000"/>
<rect x="1616.2" y="42.0" width="58.60" height="612.20" fill="none" stroke="#000" stroke-width="1.7"/>
<path d="M1674.80,654.20H1686.30" stroke="#111" stroke-width="2.0"/>
<text x="1695.0" y="661.70" font-family='"Liberation Serif", "Times New Roman", serif' font-size="23.2">2.000</text>
<path d="M1674.80,526.66H1686.30" stroke="#111" stroke-width="2.0"/>
<text x="1695.0" y="534.16" font-family='"Liberation Serif", "Times New Roman", serif' font-size="23.2">12.83</text>
<path d="M1674.80,399.12H1686.30" stroke="#111" stroke-width="2.0"/>
<text x="1695.0" y="406.62" font-family='"Liberation Serif", "Times New Roman", serif' font-size="23.2">23.67</text>
<path d="M1674.80,271.58H1686.30" stroke="#111" stroke-width="2.0"/>
<text x="1695.0" y="279.08" font-family='"Liberation Serif", "Times New Roman", serif' font-size="23.2">34.50</text>
<path d="M1674.80,144.03H1686.30" stroke="#111" stroke-width="2.0"/>
<text x="1695.0" y="151.53" font-family='"Liberation Serif", "Times New Roman", serif' font-size="23.2">45.33</text>
<path d="M1674.80,42.00H1686.30" stroke="#111" stroke-width="2.0"/>
<text x="1695.0" y="49.50" font-family='"Liberation Serif", "Times New Roman", serif' font-size="23.2">54.00</text>
<text transform="translate(1636.3,27.1) scale(1.22,1)" font-family='"Liberation Serif", "Times New Roman", serif' font-size="35">ε</text>
<text x="1652.9" y="37.1" font-family='"Liberation Serif", "Times New Roman", serif' font-size="27">r</text>
<text x="1131" y="743.8" font-family='"Liberation Serif", "Times New Roman", serif' font-size="31.6">volume water content(cm<tspan font-size="21" dy="-12.3">3</tspan><tspan font-size="31.6" dy="12.3">/cm</tspan><tspan font-size="21" dy="-12.3">3</tspan><tspan font-size="31.6" dy="12.3">)</tspan></text>
<text transform="translate(933.9,471.4) rotate(-90)" font-family='"Liberation Serif", "Times New Roman", serif' font-size="31.5">Dry density(g.cm<tspan font-size="22.5" dy="-12.6">-3</tspan><tspan font-size="31.5" dy="12.6">)</tspan></text>
<text x="896.1" y="39.4" font-family='"Liberation Sans", Arial, sans-serif' font-weight="bold" font-size="42.6">B</text>
</svg>
</body>
</html>
